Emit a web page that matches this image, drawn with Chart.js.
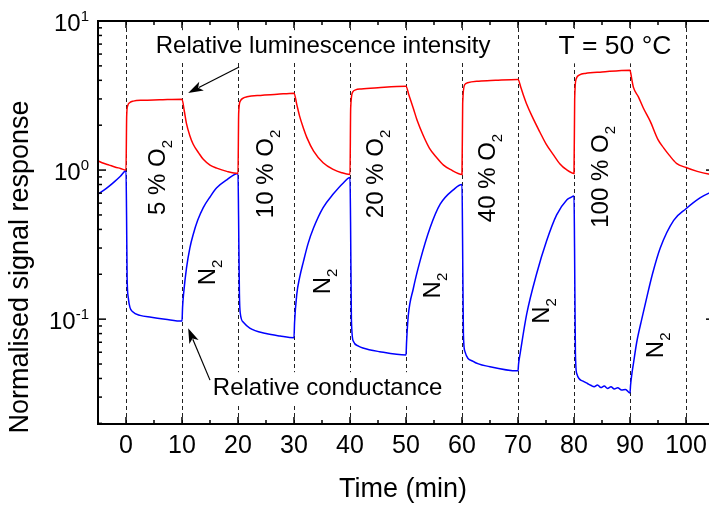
<!DOCTYPE html>
<html><head><meta charset="utf-8">
<script src="https://cdn.jsdelivr.net/npm/chart.js@4/dist/chart.umd.min.js"></script>
<style>
html,body{margin:0;padding:0;background:#fff;overflow:hidden;width:709px;height:508px}
#wrap{width:720px;height:508px}
canvas{display:block}
</style></head>
<body><div id="wrap"><canvas id="c" width="720" height="508"></canvas></div>
<script>
// ---- data ----
const lumTime = [-5,-4,-3,-2,-1,0,0.12,0.3,0.7,1.3,3,6,10,
  10.4,10.8,11.4,12,13,13.8,15,16.2,18,20,
  20.12,20.4,21,21.6,24,27,30,
  30.5,31,31.7,32.3,33.5,35.2,37,38.5,40,
  40.12,40.5,41,42,45,50,
  50.5,51.3,52,53.1,54.2,55.5,56.7,57.9,60,
  60.12,60.5,61,63,66,70,
  70.5,71,71.5,72.5,73.9,75,76.3,77.5,78.6,80,
  80.12,80.4,81,82,85,90,
  90.3,90.6,91.5,92.4,93.6,95,96,97,98.3,100,102,104,105];
const lumValue = [1.15,1.11,1.08,1.05,1.025,1.0,2.3,2.7,2.84,2.9,2.94,2.96,2.99,
  2.5,2.05,1.7,1.49,1.3,1.18,1.08,1.03,0.98,0.95,
  2.4,2.9,3.05,3.1,3.17,3.22,3.28,
  2.75,2.3,1.9,1.65,1.34,1.12,1.01,0.96,0.935,
  2.6,3.35,3.45,3.5,3.57,3.65,
  3.2,2.6,2.15,1.7,1.4,1.21,1.08,1.01,0.935,
  2.8,3.75,3.85,3.95,4.0,4.05,
  3.6,3.15,2.8,2.3,1.8,1.5,1.27,1.1,1.01,0.95,
  3.0,4.1,4.35,4.45,4.55,4.68,
  4.1,3.6,3.1,2.6,2.13,1.6,1.41,1.26,1.11,1.04,0.98,0.94,0.93];

const condTime = [-5,-4,-3,-2,-1,0,
  0.1,0.2,0.4,0.7,1.2,2.5,4.5,7,10,
  10.1,10.3,10.8,11.4,12,12.8,13.8,15,16.2,18,20,
  20.1,20.25,20.4,21,22.1,25,27.5,30,
  30.1,30.5,31,31.7,32.5,33.5,35.2,37,38.8,40,
  40.1,40.25,40.6,41.5,42.3,45.3,50,
  50.1,50.4,51.3,52.5,54.3,56.1,58.5,60,
  60.1,60.25,60.5,62,65,70,
  70.1,70.36,71.55,73.3,75.1,76.9,78.7,79.4,80,
  80.1,80.25,80.5,81.6,82.4,83,83.6,84.2,84.8,85.4,86,86.6,87.2,87.8,88.5,89.2,90,
  90.1,90.3,90.6,91.2,92.1,93,94,95.4,97.8,100,102.5,104.1,105];
const condValue = [0.69,0.73,0.78,0.84,0.91,0.99,
  0.5,0.19,0.14,0.12,0.112,0.106,0.103,0.1,0.097,
  0.12,0.15,0.22,0.3,0.37,0.46,0.56,0.66,0.76,0.86,0.95,
  0.5,0.15,0.11,0.095,0.087,0.08,0.077,0.075,
  0.095,0.147,0.19,0.245,0.32,0.41,0.56,0.69,0.82,0.89,
  0.45,0.1,0.071,0.066,0.064,0.0605,0.0575,
  0.07,0.105,0.16,0.245,0.41,0.59,0.74,0.80,
  0.35,0.08,0.061,0.052,0.048,0.045,
  0.05,0.058,0.108,0.2,0.334,0.5,0.63,0.655,0.67,
  0.3,0.06,0.043,0.0384,0.037,0.036,0.0352,0.0362,0.0348,0.0356,0.0343,0.0352,0.0340,0.0346,0.0335,0.0338,0.032,
  0.036,0.042,0.05,0.07,0.1,0.14,0.2,0.3,0.46,0.55,0.65,0.70,0.72];

const timeTickLabels = [0,10,20,30,40,50,60,70,80,90,100];
const minorTimeTicks = [5,15,25,35,45,55,65,75,85,95];
const gasSwitchTimes = [0,10,20,30,40,50,60,70,80,90,100];
const majorYTicks = [0.1,1,10];
const yTickExponents = ['-1','0','1'];
const minorYTicks = [0.02,0.03,0.04,0.05,0.06,0.07,0.08,0.09,0.2,0.3,0.4,0.5,0.6,0.7,0.8,0.9,2,3,4,5,6,7,8,9];
const o2Labels = ['5 % O','10 % O','20 % O','40 % O','100 % O'];
const o2LabelTimes = [6.96,26.25,45.9,65.9,86.07];
const o2LabelValues = [0.892,0.942,0.942,0.885,0.90];
const n2LabelTimes = [15.89,36.43,56.07,75.54,95.89];
const n2LabelValues = [0.2057,0.179,0.168,0.1135,0.0667];

// ---- drawing ----
const FONT = '"Liberation Sans", Arial, Helvetica, sans-serif';
const pts = (ts, vs) => ts.map((t, i) => ({x: t, y: vs[i]}));

function subText(ctx, cx, cy, main, sub, size, subSize, drop, rotate) {
  ctx.save();
  ctx.translate(cx, cy);
  if (rotate) ctx.rotate(-Math.PI / 2);
  ctx.font = size + 'px ' + FONT;
  const mw = ctx.measureText(main).width;
  ctx.font = subSize + 'px ' + FONT;
  const sw = sub ? ctx.measureText(sub).width : 0;
  const start = -(mw + sw) / 2;
  ctx.textAlign = 'left';
  ctx.textBaseline = 'alphabetic';
  ctx.fillStyle = '#000';
  ctx.font = size + 'px ' + FONT;
  ctx.fillText(main, start, 0);
  if (sub) { ctx.font = subSize + 'px ' + FONT; ctx.fillText(sub, start + mw, drop); }
  ctx.restore();
}

function boxedText(ctx, text, cx, base, size) {
  ctx.save();
  ctx.font = size + 'px ' + FONT;
  const w = ctx.measureText(text).width;
  ctx.fillStyle = '#fff';
  ctx.fillRect(cx - w / 2 - 4, base - size * 0.95, w + 8, size * 1.3);
  ctx.fillStyle = '#000';
  ctx.textAlign = 'center'; ctx.textBaseline = 'alphabetic';
  ctx.fillText(text, cx, base);
  ctx.restore();
}

function arrow(ctx, x1, y1, x2, y2) {
  const ang = Math.atan2(y2 - y1, x2 - x1);
  const L = 15, W = 5;
  ctx.save();
  ctx.strokeStyle = '#000'; ctx.fillStyle = '#000'; ctx.lineWidth = 1.2;
  ctx.beginPath(); ctx.moveTo(x1, y1);
  ctx.lineTo(x2 - Math.cos(ang) * L * 0.8, y2 - Math.sin(ang) * L * 0.8); ctx.stroke();
  ctx.beginPath();
  ctx.moveTo(x2, y2);
  ctx.lineTo(x2 - Math.cos(ang) * L - Math.sin(ang) * W, y2 - Math.sin(ang) * L + Math.cos(ang) * W);
  ctx.lineTo(x2 - Math.cos(ang) * L * 0.75, y2 - Math.sin(ang) * L * 0.75);
  ctx.lineTo(x2 - Math.cos(ang) * L + Math.sin(ang) * W, y2 - Math.sin(ang) * L - Math.cos(ang) * W);
  ctx.closePath(); ctx.fill();
  ctx.restore();
}

const axesPlugin = {
  id: 'axesPlugin',
  beforeDatasetsDraw(chart) {
    const {ctx, chartArea: a, scales: {x}} = chart;
    ctx.save();
    ctx.strokeStyle = '#222'; ctx.lineWidth = 1; ctx.setLineDash([4, 3]);
    gasSwitchTimes.forEach(t => {
      const px = Math.round(x.getPixelForValue(t)) + 0.5;
      ctx.beginPath(); ctx.moveTo(px, a.top); ctx.lineTo(px, a.bottom); ctx.stroke();
    });
    ctx.restore();
  },
  afterDraw(chart) {
    const {ctx, chartArea: a, scales: {x, y}} = chart;
    ctx.save();

    // annotations with white boxes (drawn before the frame)
    boxedText(ctx, 'Relative luminescence intensity', x.getPixelForValue(35.2), y.getPixelForValue(6.1), 24);
    boxedText(ctx, 'Relative conductance', x.getPixelForValue(36.0), y.getPixelForValue(0.031), 24);
    boxedText(ctx, 'T = 50 °C', x.getPixelForValue(87.3), y.getPixelForValue(6.0), 26.5);
    arrow(ctx, x.getPixelForValue(20.2), y.getPixelForValue(4.92), x.getPixelForValue(11.1), y.getPixelForValue(3.29));
    arrow(ctx, x.getPixelForValue(15.0), y.getPixelForValue(0.039), x.getPixelForValue(11.1), y.getPixelForValue(0.087));

    ctx.strokeStyle = '#000'; ctx.setLineDash([]);
    ctx.lineWidth = 2;
    ctx.strokeRect(a.left, a.top, a.right - a.left, a.bottom - a.top);
    ctx.lineWidth = 1.5;
    const vt = (px, len) => {
      ctx.beginPath(); ctx.moveTo(px, a.bottom); ctx.lineTo(px, a.bottom - len); ctx.stroke();
      ctx.beginPath(); ctx.moveTo(px, a.top); ctx.lineTo(px, a.top + len); ctx.stroke();
    };
    const ht = (py, len) => {
      ctx.beginPath(); ctx.moveTo(a.left, py); ctx.lineTo(a.left + len, py); ctx.stroke();
      ctx.beginPath(); ctx.moveTo(a.right, py); ctx.lineTo(a.right - len, py); ctx.stroke();
    };
    timeTickLabels.forEach(t => vt(x.getPixelForValue(t), 7));
    minorTimeTicks.forEach(t => vt(x.getPixelForValue(t), 4));
    majorYTicks.forEach(v => ht(y.getPixelForValue(v), 8));
    minorYTicks.forEach(v => ht(y.getPixelForValue(v), 4));

    // x tick labels
    ctx.fillStyle = '#000';
    ctx.font = '25px ' + FONT; ctx.textAlign = 'center'; ctx.textBaseline = 'alphabetic';
    timeTickLabels.forEach(t => ctx.fillText(String(t), x.getPixelForValue(t), a.bottom + 29));

    // y tick labels 10^n
    majorYTicks.forEach((v, i) => {
      const py = y.getPixelForValue(v);
      const right = a.left - 9;
      ctx.font = '15px ' + FONT; ctx.textAlign = 'right';
      const sw = ctx.measureText(yTickExponents[i]).width;
      ctx.fillText(yTickExponents[i], right, py);
      ctx.font = '24px ' + FONT;
      ctx.fillText('10', right - sw, py + 10);
    });

    // axis titles
    subText(ctx, 28, 267, 'Normalised signal response', '', 27, 15, 0, true);
    subText(ctx, 403, 497, 'Time (min)', '', 27, 15, 0, false);

    o2Labels.forEach((s, i) => subText(ctx, x.getPixelForValue(o2LabelTimes[i]), y.getPixelForValue(o2LabelValues[i]), s, '2', 24, 15, 7, true));
    n2LabelTimes.forEach((t, i) => subText(ctx, x.getPixelForValue(t), y.getPixelForValue(n2LabelValues[i]), 'N', '2', 24, 15, 7, true));
    ctx.restore();
  }
};

new Chart(document.getElementById('c'), {
  type: 'line',
  data: {
    datasets: [
      {label: 'Relative luminescence intensity', data: pts(lumTime, lumValue), borderColor: '#ff0000', borderWidth: 1.5, pointRadius: 0, cubicInterpolationMode: 'monotone', fill: false},
      {label: 'Relative conductance', data: pts(condTime, condValue), borderColor: '#0000ff', borderWidth: 1.5, pointRadius: 0, cubicInterpolationMode: 'monotone', fill: false}
    ]
  },
  options: {
    responsive: false, animation: false, devicePixelRatio: 1,
    layout: {padding: {left: 98, top: 21, right: 6, bottom: 84}},
    plugins: {legend: {display: false}, tooltip: {enabled: false}},
    scales: {
      x: {type: 'linear', min: -5, max: 105, display: false},
      y: {type: 'logarithmic', min: 0.0198, max: 10, display: false}
    }
  },
  plugins: [axesPlugin]
});
</script>
</body></html>
